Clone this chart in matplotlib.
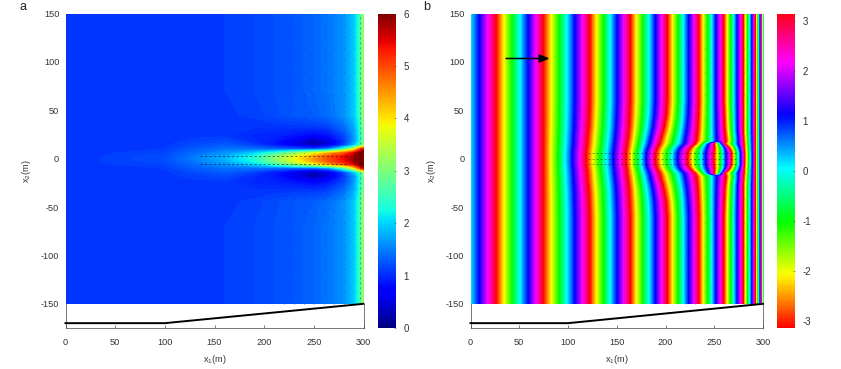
import numpy as np
import matplotlib
matplotlib.use('Agg')
import matplotlib.pyplot as plt
from matplotlib.cm import ScalarMappable
from matplotlib.colors import Normalize

plt.rcParams['font.family'] = ['Liberation Sans', 'DejaVu Sans']
plt.rcParams['mathtext.default'] = 'regular'
plt.rcParams['axes.unicode_minus'] = False

# ---- amplitude table (panel a), mirrored about x2 = 0
amp_x = [0, 100, 130, 160, 190, 210, 230, 250, 265, 280, 290, 295, 300]
amp_y = [0, 3, 6, 10, 14, 18, 24, 32, 45, 70, 150]
amp_vals = [
    [1.05, 1.20, 1.50, 1.80, 2.35, 3.05, 3.80, 4.50, 5.00, 5.40, 5.85, 6.20, 6.50],
    [1.05, 1.18, 1.45, 1.72, 2.25, 2.90, 3.60, 4.35, 4.90, 5.30, 5.75, 6.15, 6.50],
    [1.05, 1.15, 1.38, 1.60, 1.95, 2.40, 3.00, 3.60, 4.20, 4.80, 5.40, 5.90, 6.30],
    [1.05, 1.10, 1.28, 1.42, 1.40, 1.30, 1.25, 1.20, 1.50, 2.50, 3.60, 4.60, 5.40],
    [1.05, 1.08, 1.18, 1.28, 1.12, 0.92, 0.62, 0.30, 0.55, 1.15, 1.80, 2.40, 3.10],
    [1.05, 1.08, 1.12, 1.18, 1.02, 0.88, 0.58, 0.22, 0.50, 1.05, 1.60, 2.10, 2.90],
    [1.05, 1.06, 1.08, 1.08, 0.98, 0.95, 0.85, 0.72, 0.85, 1.15, 1.60, 2.10, 2.90],
    [1.05, 1.06, 1.08, 1.08, 1.05, 1.05, 1.05, 1.05, 1.10, 1.35, 1.70, 2.15, 3.00],
    [1.05, 1.06, 1.07, 1.08, 1.12, 1.18, 1.25, 1.30, 1.40, 1.60, 1.90, 2.30, 3.10],
    [1.05, 1.06, 1.08, 1.10, 1.15, 1.20, 1.25, 1.35, 1.45, 1.60, 1.90, 2.30, 3.20],
    [1.05, 1.06, 1.08, 1.10, 1.15, 1.20, 1.25, 1.35, 1.45, 1.60, 1.90, 2.30, 3.20],
]

# ---- phase table (panel b): x1 of the red crests on rows of constant |x2|
crest_y = [0, 6, 10, 13, 15, 18, 22, 27, 33, 45, 60, 150]
crest_x = [
    [25.5, 74, 118, 159, 189, 222, 249, 267, 280.5, 291.5, 298],
    [25.5, 74, 118, 159, 189.5, 222.5, 249, 267, 280.5, 291.5, 298],
    [25.5, 74, 118.5, 159.5, 190.5, 224, 249.5, 265.5, 280, 291.5, 298],
    [25.5, 74, 119, 160, 192, 227, 249.5, 263, 280, 291.5, 298],
    [25.5, 74, 119, 160, 193, 230, 249.5, 260, 280, 291.5, 298],
    [25.5, 74, 119.5, 160.5, 194, 231, 261.5, 279.5, 291.5, 298],
    [25.5, 74, 119.5, 161, 195, 231.5, 261, 279.5, 291.5, 298],
    [25.5, 74, 120, 161.5, 196.5, 232, 260.5, 279, 291.5, 298],
    [25.5, 74, 120.5, 162, 198, 232.5, 260, 279, 291.5, 298],
    [25.5, 74, 121, 162.5, 200, 233, 259.5, 279, 291.5, 298],
    [25.5, 74, 121.5, 163, 201, 233.5, 259, 279, 291.5, 298],
    [25.5, 74, 121.5, 163, 201, 233.5, 259, 279, 291.5, 298],
]
phase_at_0 = 0.15
phase_past_last = 4.0

# ---- shared
x_ticks = [0, 50, 100, 150, 200, 250, 300]
y_ticks = [-150, -100, -50, 0, 50, 100, 150]
profile_x = [0, 100, 300]
profile_y = [-170, -170, -150]
amp_ticks = [0, 1, 2, 3, 4, 5, 6]
phase_ticks = [-3, -2, -1, 0, 1, 2, 3]

# ---- vector traces
a_rows = [3, -6]
a_row_x = [135, 285]
a_col_x = [296]
b_rows = [6, 0, -6]
b_row_x = [120, 272]
grid_x = [220, 230, 240, 250, 260, 270, 280, 290]
grid_y = list(range(-150, 151, 12))
arrow_start = (36.5, 103.5)
arrow_end = (81, 103.5)

W, H = 841, 369
TXT = '#333333'
FS = 6.6


def px_axes(fig, l, r, t=13.5, b=328):
    return fig.add_axes([l / W, (H - b) / H, (r - l) / W, (b - t) / H])


def style(ax):
    ax.set_xlim(0, 300)
    ax.set_ylim(-175, 150)
    ax.set_xticks(x_ticks)
    ax.set_yticks(y_ticks)
    ax.tick_params(axis='x', direction='in', length=2.5, width=0.5, pad=7.5,
                   labelsize=FS, labelcolor=TXT, color='#444444')
    ax.tick_params(axis='y', length=0, pad=4.5, labelsize=FS, labelcolor=TXT)
    ax.spines['top'].set_visible(False)
    for s in ('left', 'right'):
        ax.spines[s].set_bounds(-175, -150)
    for s in ('left', 'right', 'bottom'):
        ax.spines[s].set_linewidth(0.5)
        ax.spines[s].set_color('#444444')
    ax.set_xlabel(r'x$_1$(m)', fontsize=FS, color=TXT, labelpad=4)
    ax.set_ylabel(r'x$_2$(m)', fontsize=FS, color=TXT, labelpad=6)
    ax.plot(profile_x, profile_y, color='black', lw=1.4,
            solid_joinstyle='round', clip_on=False, zorder=5)


def colorbar(fig, l, r, cmap, vmin, vmax, ticks):
    cax = px_axes(fig, l, r)
    cb = fig.colorbar(ScalarMappable(Normalize(vmin, vmax), cmap), cax=cax)
    cb.set_ticks(ticks)
    cb.ax.tick_params(direction='in', length=1.5, width=0.4, pad=5.5,
                      labelsize=FS + 0.4, labelcolor=TXT, color='#555555')
    cb.outline.set_visible(False)


fig = plt.figure(figsize=(W / 100, H / 100), dpi=100)

# ---- panel a
ax1 = px_axes(fig, 65.5, 363.5)
y_full = np.array([-v for v in amp_y[:0:-1]] + amp_y, float)
Z = np.array(amp_vals)
Z_full = np.vstack([Z[:0:-1], Z])
ax1.contourf(amp_x, y_full, Z_full, levels=np.linspace(0, 6.6, 133), cmap='jet',
             norm=Normalize(0, 6), antialiased=False, extend='both', zorder=1)
for v in a_rows:
    ax1.plot(a_row_x, [v, v], color='black', lw=0.5, ls=(0, (3, 3.5)), alpha=0.75, zorder=3)
for v in a_col_x:
    ax1.plot([v, v], [-150, 150], color='black', lw=0.4, ls=(0, (4, 5)), alpha=0.55, zorder=3)
gx, gy = np.meshgrid(grid_x, grid_y)
ax1.scatter(gx.ravel(), gy.ravel(), s=0.5, color='black', alpha=0.18, lw=0, zorder=3)
style(ax1)
colorbar(fig, 377.5, 396, 'jet', 0, 6, amp_ticks)

# ---- panel b
ax2 = px_axes(fig, 470.5, 763)
fine_x = np.linspace(0, 300, 1201)
rows = []
for cr in crest_x:
    nodes = [0.0] + list(cr) + [300.0]
    vals = [phase_at_0] + [np.pi + 2 * np.pi * k for k in range(len(cr))]
    vals.append(vals[-1] + phase_past_last)
    rows.append(np.exp(1j * np.interp(fine_x, nodes, vals)))
rows = np.array(rows)
fine_y = np.linspace(150, -150, 601)
ay = np.abs(fine_y)
idx = np.clip(np.searchsorted(crest_y, ay, side='right') - 1, 0, len(crest_y) - 2)
cy = np.array(crest_y, float)
f = ((ay - cy[idx]) / (cy[idx + 1] - cy[idx]))[:, None]
field = rows[idx] * (1 - f) + rows[idx + 1] * f
ax2.imshow(np.angle(field), extent=[0, 300, -150, 150], cmap='hsv', vmin=-np.pi,
           vmax=np.pi, aspect='auto', interpolation='nearest', zorder=1)
for v in b_rows:
    ax2.plot(b_row_x, [v, v], color='black', lw=0.45, ls=(0, (3, 3.5)), alpha=0.65, zorder=3)
ax2.scatter(gx.ravel(), gy.ravel(), s=0.4, color='black', alpha=0.15, lw=0, zorder=3)
ax2.annotate('', xy=arrow_end, xytext=arrow_start, zorder=6,
             arrowprops=dict(arrowstyle='-|>,head_length=0.6,head_width=0.25',
                             color='black', lw=1.1, shrinkA=0, shrinkB=0))
style(ax2)
colorbar(fig, 777, 795, 'hsv', -np.pi, np.pi, phase_ticks)

# ---- panel letters
fig.text(20 / W, 1 - 9.5 / H, 'a', fontsize=9, color='#222222', va='baseline', ha='left')
fig.text(423 / W, 1 - 9.5 / H, 'b', fontsize=9, color='#222222', va='baseline', ha='left')

fig.savefig('out.png', dpi=100)
